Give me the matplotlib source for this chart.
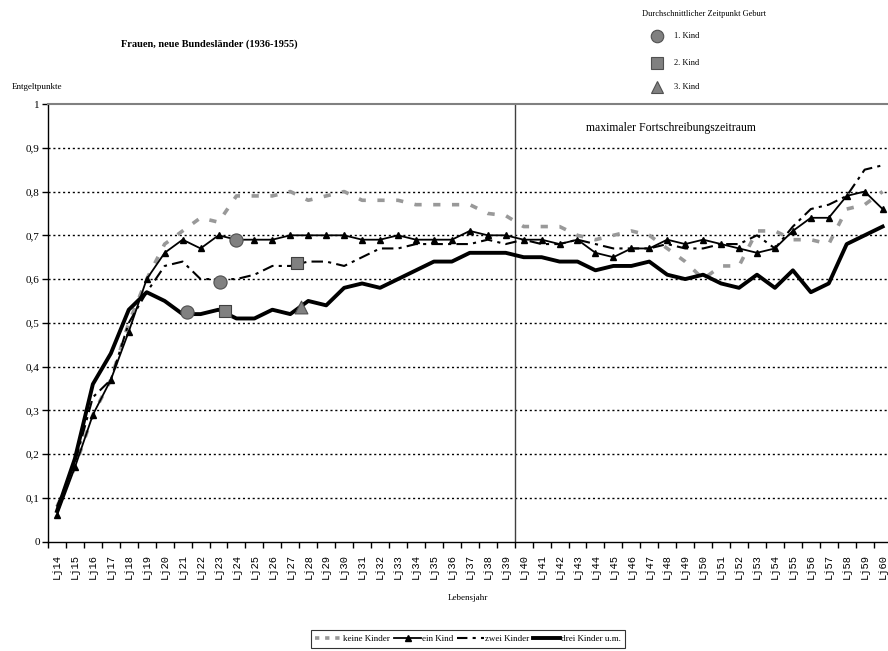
import matplotlib
matplotlib.use("Agg")
import matplotlib.pyplot as plt
from matplotlib.lines import Line2D
import numpy as np

# ---------------- data ----------------
categories = [f"Lj{a}" for a in range(14, 61)]

keine_kinder = [0.08, 0.17, 0.29, 0.37, 0.50, 0.60, 0.68, 0.71, 0.74, 0.73,
                0.79, 0.79, 0.79, 0.80, 0.78, 0.79, 0.80, 0.78, 0.78, 0.78,
                0.77, 0.77, 0.77, 0.77, 0.75, 0.745, 0.72, 0.72, 0.72, 0.70,
                0.69, 0.70, 0.71, 0.70, 0.67, 0.64, 0.60, 0.63, 0.63, 0.71,
                0.71, 0.69, 0.69, 0.68, 0.76, 0.77, 0.80]

ein_kind = [0.06, 0.17, 0.29, 0.37, 0.48, 0.60, 0.66, 0.69, 0.67, 0.70,
            0.69, 0.69, 0.69, 0.70, 0.70, 0.70, 0.70, 0.69, 0.69, 0.70,
            0.69, 0.69, 0.69, 0.71, 0.70, 0.70, 0.69, 0.69, 0.68, 0.69,
            0.66, 0.65, 0.67, 0.67, 0.69, 0.68, 0.69, 0.68, 0.67, 0.66,
            0.67, 0.71, 0.74, 0.74, 0.79, 0.80, 0.76]

zwei_kinder = [0.08, 0.18, 0.33, 0.37, 0.50, 0.57, 0.63, 0.64, 0.60, 0.60,
               0.60, 0.61, 0.63, 0.63, 0.64, 0.64, 0.63, 0.65, 0.67, 0.67,
               0.68, 0.68, 0.68, 0.68, 0.69, 0.68, 0.69, 0.68, 0.68, 0.69,
               0.68, 0.67, 0.67, 0.67, 0.68, 0.67, 0.67, 0.68, 0.68, 0.70,
               0.67, 0.72, 0.76, 0.77, 0.79, 0.85, 0.86]

drei_kinder = [0.07, 0.19, 0.36, 0.43, 0.53, 0.57, 0.55, 0.52, 0.52, 0.53,
               0.51, 0.51, 0.53, 0.52, 0.55, 0.54, 0.58, 0.59, 0.58, 0.60,
               0.62, 0.64, 0.64, 0.66, 0.66, 0.66, 0.65, 0.65, 0.64, 0.64,
               0.62, 0.63, 0.63, 0.64, 0.61, 0.60, 0.61, 0.59, 0.58, 0.61,
               0.58, 0.62, 0.57, 0.59, 0.68, 0.70, 0.72]

# average time of birth markers (position in category units, value)
kind1_x = [7.25, 9.1, 10.0]
kind1_y = [0.525, 0.594, 0.69]
kind2_x = [9.35, 13.4]
kind2_y = [0.527, 0.636]
kind3_x = [13.6]
kind3_y = [0.537]

ytick_vals = [0, 0.1, 0.2, 0.3, 0.4, 0.5, 0.6, 0.7, 0.8, 0.9, 1.0]
ytick_labels = ["0", "0,1", "0,2", "0,3", "0,4", "0,5", "0,6", "0,7", "0,8", "0,9", "1"]

SERIF = ["Liberation Serif", "DejaVu Serif"]
MONO = ["Liberation Mono", "DejaVu Sans Mono"]

# ---------------- figure ----------------
W, H = 888, 651
fig = plt.figure(figsize=(W / 100, H / 100), dpi=100)
ax = fig.add_axes([48 / W, 1 - 541.7 / H, 840 / W, 437.7 / H])

x = np.arange(len(categories))

gray = "#999999"
mgray = "#808080"

ax.plot(x, keine_kinder, color=gray, lw=2.6, dashes=(2.0, 3.2), zorder=3,
        solid_capstyle="butt", dash_capstyle="butt")
ax.plot(x, ein_kind, color="black", lw=1.3, marker="^", ms=4.8, zorder=4)
ax.plot(x, zwei_kinder, color="black", lw=1.5, dashes=(5.5, 2.5, 1.5, 2.5), zorder=4)
ax.plot(x, drei_kinder, color="black", lw=2.8, zorder=5)

ax.scatter(kind1_x, kind1_y, marker="o", s=90, color=mgray, edgecolor="#505050",
           linewidth=0.8, zorder=6)
ax.scatter(kind2_x, kind2_y, marker="s", s=85, color=mgray, edgecolor="#404040",
           linewidth=0.8, zorder=6)
ax.scatter(kind3_x, kind3_y, marker="^", s=85, color=mgray, edgecolor="#505050",
           linewidth=0.8, zorder=6)

# grid lines
for yv in ytick_vals[1:-1]:
    ax.axhline(yv, color="black", lw=1.0, linestyle=(0, (1.5, 2.0)), zorder=1)

ax.axvline(25.5, color="#404040", lw=1.0, zorder=2)

ax.set_xlim(-0.5, 46.3)
ax.set_ylim(0, 1)

ax.set_yticks(ytick_vals)
ax.set_yticklabels(ytick_labels, family=SERIF, fontsize=8)
ax.tick_params(axis="y", length=4, width=1, pad=2)

ax.set_xticks(x)
ax.set_xticklabels(categories, rotation=90, family=MONO, fontsize=7.5)
ax.set_xticks(np.arange(-0.5, 46.5, 1), minor=True)
ax.tick_params(axis="x", which="major", length=0, pad=9)
ax.tick_params(axis="x", which="minor", length=4, width=1, direction="out")

for s in ["left", "bottom"]:
    ax.spines[s].set_color("black")
    ax.spines[s].set_linewidth(1.0)
ax.spines["top"].set_color(mgray)
ax.spines["top"].set_linewidth(1.5)
ax.spines["right"].set_visible(False)

ax.text(29.45, 0.945, "maximaler Fortschreibungszeitraum", family=SERIF,
        fontsize=8.5, ha="left", va="center")

# texts
fig.text(209 / W, 1 - 44 / H, "Frauen, neue Bundesländer (1936-1955)", family=SERIF,
         fontsize=7.5, fontweight="bold", ha="center", va="center")
fig.text(12 / W, 1 - 87 / H, "Entgeltpunkte", family=SERIF, fontsize=6.5,
         ha="left", va="center")
fig.text(468 / W, 1 - 598 / H, "Lebensjahr", family=SERIF, fontsize=6.5,
         ha="center", va="center")

# top-right legend
fig.text(642 / W, 1 - 14 / H, "Durchschnittlicher Zeitpunkt Geburt", family=SERIF,
         fontsize=6, ha="left", va="center")
for yy, mk, lab in [(36, "o", "1. Kind"), (63, "s", "2. Kind"), (87, "^", "3. Kind")]:
    fig.add_artist(Line2D([657 / W], [1 - yy / H], marker=mk, ms=9, color=mgray,
                          markeredgecolor="#505050", markeredgewidth=0.8, linestyle="none",
                          transform=fig.transFigure))
    fig.text(674 / W, 1 - yy / H, lab, family=SERIF, fontsize=6, ha="left", va="center")

# bottom legend
handles = [
    Line2D([], [], color=gray, lw=2.6, dashes=(1.2, 1.6)),
    Line2D([], [], color="black", lw=1.3, marker="^", ms=5),
    Line2D([], [], color="black", lw=1.5, dashes=(5, 2.5, 1.5, 2.5)),
    Line2D([], [], color="black", lw=2.8),
]
labels = ["keine Kinder", "ein Kind", "zwei Kinder", "drei Kinder u.m."]
leg = fig.legend(handles, labels, loc="lower center", bbox_to_anchor=(468 / W, -0.002),
                 ncol=4, frameon=True, fancybox=False, edgecolor="black",
                 prop={"family": SERIF, "size": 6.5}, handlelength=3.0,
                 handletextpad=0.1, columnspacing=0.4, borderpad=0.5)
leg.get_frame().set_linewidth(0.8)

fig.savefig("out.png", dpi=100)
